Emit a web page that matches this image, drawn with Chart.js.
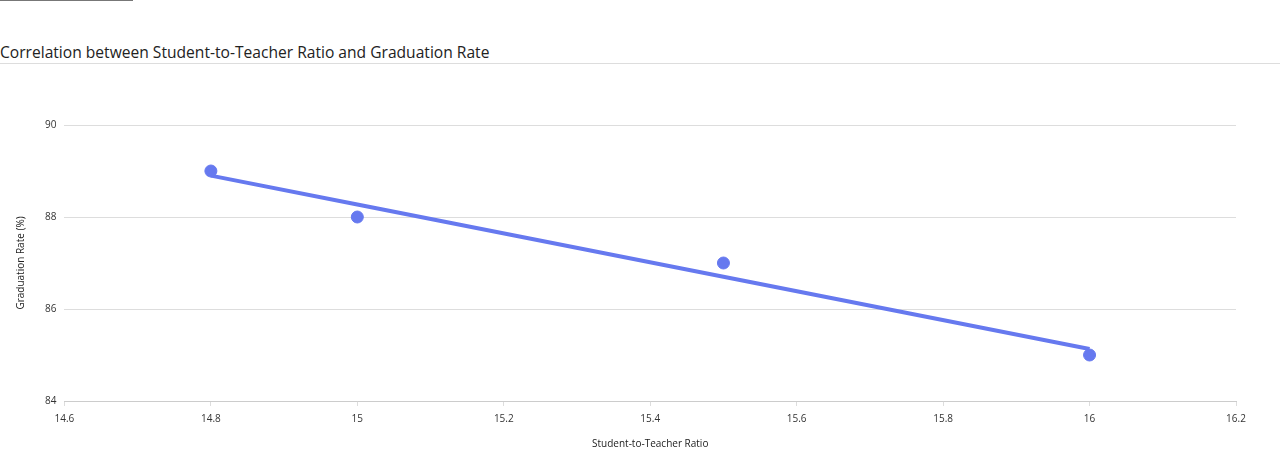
<!DOCTYPE html>
<html>
<head>
<meta charset="utf-8">
<script src="https://cdn.jsdelivr.net/npm/chart.js@4"></script>
<style>
  html, body { margin: 0; padding: 0; background: #fff; width: 1280px; height: 454px; overflow: hidden; font-family: "Open Sans", "Noto Sans", sans-serif; }
  #topbar { position: absolute; left: 0; top: 0; width: 133px; height: 1px; background: #777; }
  #title { position: absolute; left: 0; top: 41px; font-size: 15.6px; color: #222; font-weight: 500; white-space: nowrap; }
  #sep { position: absolute; left: 0; top: 63px; width: 1280px; height: 1px; background: #ddd; }
  #wrap { position: absolute; left: 0; top: 64px; width: 1280px; height: 390px; }
</style>
</head>
<body>
<div id="topbar"></div>
<div id="title">Correlation between Student-to-Teacher Ratio and Graduation Rate</div>
<div id="sep"></div>
<div id="wrap"><canvas id="c"></canvas></div>
<script>
const ratios = [14.8, 15, 15.5, 16];
const gradRates = [89, 88, 87, 85];
const trendX = [14.8, 15, 15.5, 16];
const trendY = [88.9, 88.27, 86.7, 85.13];
const xTicks = [14.6, 14.8, 15, 15.2, 15.4, 15.6, 15.8, 16, 16.2];
const yTicks = [84, 86, 88, 90];

const blue = '#6679ef';
const font = { family: '"Open Sans", "Noto Sans", sans-serif', size: 10 };

new Chart(document.getElementById('c'), {
  type: 'scatter',
  data: {
    datasets: [
      {
        label: 'Trend',
        type: 'line',
        data: trendX.map((x, i) => ({ x, y: trendY[i] })),
        borderColor: blue,
        borderWidth: 4,
        pointRadius: 0,
        fill: false,
        order: 2
      },
      {
        label: 'Schools',
        data: ratios.map((x, i) => ({ x, y: gradRates[i] })),
        backgroundColor: blue,
        borderColor: blue,
        pointRadius: 6,
        order: 1
      }
    ]
  },
  options: {
    responsive: true,
    maintainAspectRatio: false,
    animation: false,
    layout: { padding: { top: 61, right: 44, left: 15, bottom: 4 } },
    plugins: { legend: { display: false }, tooltip: { enabled: false } },
    scales: {
      x: {
        type: 'linear',
        min: 14.6, max: 16.2,
        afterBuildTicks: (s) => { s.ticks = xTicks.map(v => ({ value: v })); },
        grid: { display: true, drawOnChartArea: false, drawTicks: true, tickLength: 5, color: '#ddd' },
        border: { display: true, color: '#ccc' },
        ticks: { color: '#333', font, padding: 7, callback: (v) => String(Math.round(v * 10) / 10) },
        title: { display: true, text: 'Student-to-Teacher Ratio', color: '#222', font, padding: { top: 6, bottom: 0 } }
      },
      y: {
        min: 84, max: 90,
        afterBuildTicks: (s) => { s.ticks = yTicks.map(v => ({ value: v })); },
        grid: { color: '#ddd', drawTicks: false },
        border: { display: false },
        ticks: { color: '#333', font, padding: 8 },
        title: { display: true, text: 'Graduation Rate (%)', color: '#222', font, padding: { top: 0, bottom: 10 } }
      }
    }
  }
});
</script>
</body>
</html>
